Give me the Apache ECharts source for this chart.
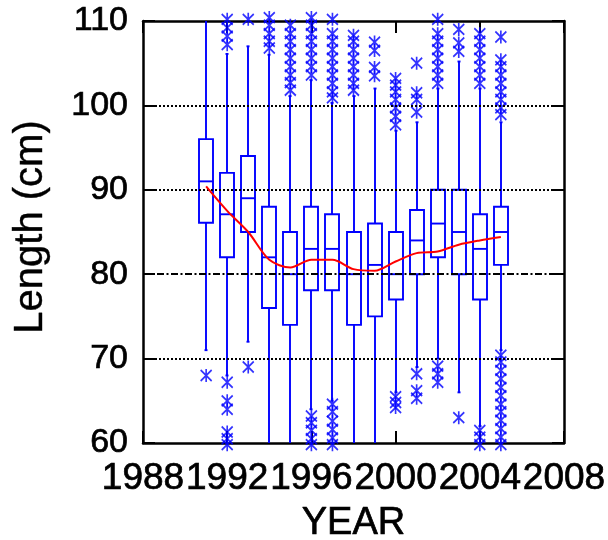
<!DOCTYPE html>
<html>
<head>
<meta charset="utf-8">
<script src="https://cdn.jsdelivr.net/npm/echarts@6/dist/echarts.min.js"></script>
<style>
html,body{margin:0;padding:0;background:#fff;}
#chart{width:608px;height:540px;}
</style>
</head>
<body>
<div id="chart"></div>
<script>
// ---- data ----
var xCategories = ['1988','1989','1990','1991','1992','1993','1994','1995','1996','1997','1998',
                   '1999','2000','2001','2002','2003','2004','2005','2006','2007','2008'];
var boxYears = ['1991','1992','1993','1994','1995','1996','1997','1998','1999','2000','2001','2002','2003','2004','2005'];
// [lower whisker, Q1, median, Q3, upper whisker]
var boxStats = [
  [71, 86.1, 91, 96, 112],
  [68, 82, 87.1, 92, 106.1],
  [72, 85, 89, 94, 107],
  [58, 76, 82, 88, 106],
  [58, 74, 80, 85, 101.1],
  [64, 78.1, 83, 88, 103],
  [65, 78.1, 83, 87.1, 100.3],
  [58, 74, 80, 85, 101.1],
  [58, 75, 81.1, 86, 102],
  [66, 77, 80, 85, 97],
  [69, 80, 84, 87.6, 98],
  [70, 82, 86, 90, 102],
  [66, 80, 85, 90, 105.2],
  [62, 77, 83, 87.1, 102],
  [71, 81.1, 85, 88, 98]
];
var outliers = [
  [68],
  [110.2, 109.2, 108.2, 107.2, 67.2, 65, 64, 61.3, 60.5, 59.8],
  [110.2, 69],
  [110.4, 109.5, 108.5, 107.6, 106.8],
  [109.5, 108.5, 107.6, 106.6, 105.6, 104.6, 103.6, 102.7, 101.8],
  [110.4, 109.5, 108.5, 107.6, 106.6, 105.6, 104.6, 103.6, 63.2, 62.4, 61.5, 60.5, 59.8],
  [110.2, 108.5, 107.6, 106.6, 105.6, 104.6, 103.6, 102.6, 101.6, 100.9, 64.6, 63.7, 62.6, 61.6, 60.6, 59.8],
  [108.3, 107.6, 106.6, 105.6, 104.6, 103.6, 102.6, 101.8],
  [107.5, 106.5, 104.5, 103.5],
  [103.2, 102.4, 101.6, 100.7, 99.7, 98.7, 97.7, 65.5, 64.8, 64.2],
  [105, 101.5, 100.7, 99.2, 68.2, 66.2, 65.3],
  [110.2, 108.5, 107.6, 106.6, 105.6, 104.6, 103.6, 102.6, 69.1, 68.2, 67.2],
  [109, 107.4, 106.4, 63],
  [108.5, 107.6, 106.6, 105.6, 104.6, 103.6, 102.6, 61.5, 60.7, 59.8],
  [108.1, 105.4, 104.6, 103.6, 102.6, 101.6, 100.7, 99.7, 98.9, 70.4, 69.6, 68.6, 67.6, 66.6, 65.6, 64.6, 63.7, 62.7, 61.7, 60.7, 59.8]
];
var meanLength = [90.4, 87.5, 85.0, 81.7, 80.8, 81.7, 81.7, 80.6, 80.4, 81.5, 82.5, 82.7, 83.5, 84.0, 84.4];
var yTicks = {min: 60, max: 110, interval: 10};
var dottedGrid = [70, 90, 100];
var dashDotRef = [80];

// ---- build ----
var FONT = 'Liberation Sans, Arial, Helvetica, sans-serif';
var BLUE = '#0000ff';
var boxData = boxYears.map(function (y, i) { return [y].concat(boxStats[i]); });
var outlierData = [];
boxYears.forEach(function (y, i) {
  outliers[i].forEach(function (v) { outlierData.push([y, v]); });
});
var meanData = boxYears.map(function (y, i) { return [y, meanLength[i]]; });

function renderBox(params, api) {
  var xi = api.value(0);
  var lo = api.coord([xi, api.value(1)]);
  var q1 = api.coord([xi, api.value(2)]);
  var md = api.coord([xi, api.value(3)]);
  var q3 = api.coord([xi, api.value(4)]);
  var hi = api.coord([xi, api.value(5)]);
  var cx = Math.round(q1[0]);
  var hw = 7, cap = 1.5;
  var st = {stroke: BLUE, lineWidth: 1.9, fill: null};
  return {
    type: 'group',
    children: [
      {type: 'line', shape: {x1: cx, y1: q3[1], x2: cx, y2: hi[1]}, style: st},
      {type: 'line', shape: {x1: cx, y1: q1[1], x2: cx, y2: lo[1]}, style: st},
      {type: 'line', shape: {x1: cx - cap, y1: hi[1], x2: cx + cap, y2: hi[1]}, style: st},
      {type: 'line', shape: {x1: cx - cap, y1: lo[1], x2: cx + cap, y2: lo[1]}, style: st},
      {type: 'rect', shape: {x: cx - hw, y: q3[1], width: 2 * hw, height: q1[1] - q3[1]},
        style: {stroke: BLUE, lineWidth: 1.9, fill: 'rgba(0,0,0,0)'}},
      {type: 'line', shape: {x1: cx - hw, y1: md[1], x2: cx + hw, y2: md[1]}, style: st}
    ]
  };
}

var axisLineStyle = {color: '#000', width: 2.5};
var tickStyle = {color: '#000', width: 2};
var heavy = {textBorderColor: '#000', textBorderWidth: 0.7};

var chart = echarts.init(document.getElementById('chart'), null, {renderer: 'canvas'});
chart.setOption({
  animation: false,
  backgroundColor: '#fff',
  textStyle: {fontFamily: FONT},
  grid: {left: 143, right: 44, top: 21, bottom: 97, containLabel: false, outerBoundsMode: 'none'},
  xAxis: [
    {
      type: 'category', data: xCategories, boundaryGap: false, position: 'bottom',
      axisLine: {show: true, lineStyle: axisLineStyle},
      axisTick: {show: true, inside: true, length: 12, interval: 3, lineStyle: tickStyle},
      axisLabel: Object.assign({interval: 3, fontSize: 37, color: '#000', margin: 17, fontFamily: FONT}, heavy),
      splitLine: {show: false},
      name: 'YEAR', nameLocation: 'middle', nameGap: 62,
      nameTextStyle: Object.assign({fontSize: 38, color: '#000', fontFamily: FONT}, heavy)
    },
    {
      type: 'category', data: xCategories, boundaryGap: false, position: 'top',
      axisLine: {show: true, lineStyle: axisLineStyle},
      axisTick: {show: true, inside: true, length: 12, interval: 3, lineStyle: tickStyle},
      axisLabel: {show: false}, splitLine: {show: false}
    }
  ],
  yAxis: [
    {
      type: 'value', min: yTicks.min, max: yTicks.max, interval: yTicks.interval, position: 'left',
      axisLine: {show: true, lineStyle: axisLineStyle},
      axisTick: {show: true, inside: true, length: 12, lineStyle: tickStyle},
      axisLabel: Object.assign({fontSize: 34, color: '#000', margin: 15, fontFamily: FONT}, heavy),
      splitLine: {show: false},
      name: 'Length (cm)', nameLocation: 'middle', nameGap: 92, nameRotate: 90,
      nameTextStyle: Object.assign({fontSize: 40, color: '#000', fontFamily: FONT, padding: [0, 0, 0, 10]}, {textBorderColor: '#000', textBorderWidth: 0.4})
    },
    {
      type: 'value', min: yTicks.min, max: yTicks.max, interval: yTicks.interval, position: 'right',
      axisLine: {show: true, lineStyle: axisLineStyle},
      axisTick: {show: true, inside: true, length: 12, lineStyle: tickStyle},
      axisLabel: {show: false}, splitLine: {show: false}
    }
  ],
  series: [
    {
      name: 'grid', type: 'line', data: [], z: 1, silent: true,
      markLine: {
        silent: true, symbol: ['none', 'none'], label: {show: false},
        lineStyle: {color: '#000', width: 2, type: [2, 2]},
        data: dottedGrid.map(function (v) { return {yAxis: v}; })
      }
    },
    {
      name: 'boxes', type: 'custom', renderItem: renderBox, data: boxData, clip: true, z: 2,
      encode: {x: 0, y: [1, 2, 3, 4, 5]}
    },
    {
      name: 'ref', type: 'line', data: [], z: 3, silent: true,
      markLine: {
        silent: true, symbol: ['none', 'none'], label: {show: false},
        lineStyle: {color: '#000', width: 2, type: [7, 2.5, 2, 2.5]},
        data: dashDotRef.map(function (v) { return {yAxis: v}; })
      }
    },
    {
      name: 'outliers', type: 'scatter', data: outlierData, clip: false, z: 4,
      symbol: 'path://M0,1L10,11M10,1L0,11M5,0L5,12', symbolSize: [11, 13],
      itemStyle: {color: 'rgba(0,0,0,0)', borderColor: BLUE, borderWidth: 1.8}
    },
    {
      name: 'mean', type: 'line', data: meanData, z: 5, showSymbol: false, symbol: 'none',
      smooth: 0.3, lineStyle: {color: '#ff0000', width: 2}
    }
  ]
});
</script>
</body>
</html>
